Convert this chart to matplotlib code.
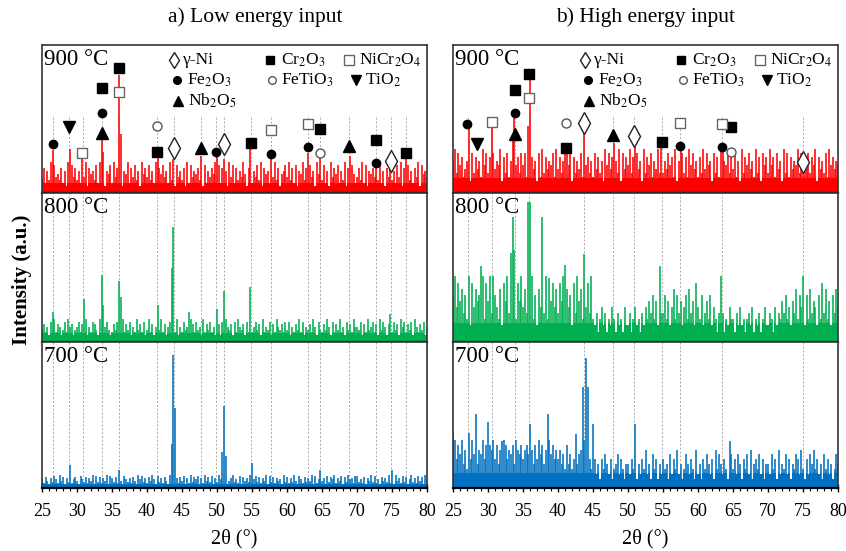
import numpy as np
import matplotlib
matplotlib.use("Agg")
import matplotlib.pyplot as plt

plt.rcParams['font.family'] = ['Liberation Serif', 'DejaVu Serif']
plt.rcParams['mathtext.fontset'] = 'stix'

# noise levels, one digit per 0.25 deg step (25..80), value = lo + (hi-lo)*d/9
L900_NOISE = ("47263918453726195847" "36284917563829471658" "29473816592748361957"
              "48362917584629371846" "37192846573918264759" "58273619482736495172"
              "26483917562849371568" "49372816593728461957" "38261947582639174852"
              "47392816574938261749" "36284917583627491856" "4")
L800_NOISE = ("35241637254136274513" "46253714265317254631" "25364172536142735261"
              "37251463725146352714" "26341752634172536241" "35162743516274351627"
              "24635172436152743526" "36142537261435274163" "25374162537241635274"
              "43615273462517364152" "26351746253617425361" "4")
L700_NOISE = ("52741638529471638257" "41853726491837264918" "63729418536274195836"
              "27495183627419583627" "48162937581629473816" "39572814693528174639"
              "15837264918372645193" "72639418527364918253" "46183759264817395628"
              "83527164938251746392" "51946283715936284719" "5")
R900_NOISE = ("69385724691837462958" "37284659173826495738" "58293746182937465829"
              "47362958173648295736" "28473619584726391847" "59372846193758264937"
              "36485729164837295846" "27394856183729465837" "48261937584629371857"
              "39572846193827465938" "26483759174638295746" "5")
R800_NOISE = ("69485736291847563928" "58396427185937462859" "47385926174839265847"
              "38592746183957264839" "21302413021420312041" "13024120314253625143"
              "36251472635146273518" "42613526142031302142" "20314120231402130241"
              "13204132536241537264" "51627354162837251637" "4")
R700_NOISE = ("79586947385968476958" "68795847698576849768" "57869748596847596857"
              "57463846352467899853" "35241536425134625314" "42536142537241635142"
              "53416253724136425317" "24153642517364253146" "35264153627145362514"
              "42635172436251436527" "31526473524163524136" "4")

# (lo, hi) of the noise band and solid floor, axes fraction
L900_BAND = (0.03, 0.21, 0.07)
L800_BAND = (0.03, 0.19, 0.06)
L700_BAND = (0.02, 0.09, 0.03)
R900_BAND = (0.05, 0.30, 0.10)
R800_BAND = (0.07, 0.44, 0.13)
R700_BAND = (0.03, 0.33, 0.10)

# peaks (2theta, height as axes fraction)
L900_PEAKS = [(26.5, 0.29), (28.9, 0.30), (30.8, 0.24), (33.5, 0.42), (33.75, 0.28),
              (36.0, 0.80), (36.25, 0.40), (41.4, 0.27), (43.8, 0.23), (47.7, 0.25),
              (49.9, 0.27), (51.0, 0.23), (54.8, 0.30), (57.7, 0.23), (63.0, 0.27),
              (64.7, 0.25), (68.9, 0.25), (72.7, 0.22), (74.8, 0.21), (77.0, 0.23)]
L800_PEAKS = [(26.5, 0.20), (30.9, 0.29), (33.6, 0.45), (33.85, 0.25), (36.0, 0.41),
              (36.25, 0.30), (41.4, 0.25), (43.6, 0.50), (43.8, 0.77), (46.0, 0.20),
              (49.9, 0.22), (51.0, 0.34), (54.8, 0.37), (74.8, 0.19)]
L700_PEAKS = [(28.9, 0.16), (36.0, 0.12), (43.5, 0.30), (43.75, 0.91), (44.0, 0.55),
              (50.75, 0.25), (51.0, 0.56), (51.25, 0.22), (54.9, 0.17), (64.8, 0.12),
              (75.0, 0.12)]
R900_PEAKS = [(27.2, 0.43), (30.6, 0.46), (33.6, 0.35), (33.8, 0.51), (35.7, 0.45),
              (35.9, 0.78), (36.1, 0.55), (41.1, 0.30), (43.7, 0.43), (47.9, 0.34),
              (50.9, 0.31), (54.8, 0.31), (57.4, 0.31), (63.4, 0.30), (75.0, 0.20)]
R800_PEAKS = [(28.96, 0.51), (30.3, 0.44), (33.25, 0.60), (33.5, 0.84), (33.75, 0.62),
              (35.8, 0.94), (36.1, 0.94), (37.7, 0.84), (38.7, 0.43), (41.1, 0.52),
              (43.7, 0.59), (54.4, 0.51), (63.2, 0.44), (75.0, 0.44)]
R700_PEAKS = [(25.0, 0.38), (27.3, 0.38), (28.2, 0.51), (30.1, 0.45), (32.1, 0.32),
              (36.0, 0.44), (38.5, 0.51), (42.6, 0.37), (43.6, 0.69), (43.9, 0.89),
              (44.3, 0.69), (45.0, 0.44), (51.0, 0.44), (64.4, 0.32)]

# reference lines
LEFT_REF = [26.5, 28.9, 30.8, 33.5, 36.0, 41.4, 43.8, 47.7, 49.9, 51.0, 54.8, 57.7,
            63.0, 64.7, 68.9, 72.7, 74.8, 77.0]
RIGHT_REF = [27.2, 30.6, 33.8, 35.9, 43.7, 47.9, 50.9, 54.8, 57.4, 63.4, 75.0]

# phase markers on the 900 C patterns (2theta, height)
L_NI = [(43.8, 0.304), (51.0, 0.331), (74.8, 0.216)]
L_CR2O3 = [(33.5, 0.709), (36.0, 0.845), (41.4, 0.277), (54.8, 0.338), (64.7, 0.432),
           (72.7, 0.358), (77.0, 0.270)]
L_NICR2O4 = [(30.7, 0.270), (36.0, 0.682), (57.7, 0.426), (63.0, 0.466)]
L_FE2O3 = [(26.5, 0.331), (33.5, 0.541), (49.9, 0.277), (57.7, 0.264), (63.0, 0.311),
           (72.7, 0.203)]
L_FETIO3 = [(41.4, 0.453), (64.7, 0.270)]
L_TIO2 = [(28.9, 0.446)]
L_NB2O5 = [(33.5, 0.405), (47.7, 0.304), (68.9, 0.318)]

R_NI = [(43.7, 0.473), (50.9, 0.385), (75.0, 0.209)]
R_CR2O3 = [(33.8, 0.696), (35.9, 0.804), (41.1, 0.304), (54.8, 0.345), (64.7, 0.446)]
R_NICR2O4 = [(30.6, 0.480), (35.9, 0.642), (57.4, 0.473), (63.4, 0.466)]
R_FE2O3 = [(27.0, 0.466), (33.8, 0.541), (57.4, 0.318), (63.4, 0.311)]
R_FETIO3 = [(41.1, 0.473), (64.7, 0.277)]
R_TIO2 = [(28.4, 0.331)]
R_NB2O5 = [(33.8, 0.399), (47.9, 0.392)]

RED, GREEN, BLUE = '#ff0000', '#00b050', '#0070c0'

styles = {
    'ni': dict(marker='d', ms=11, mfc='white', mec='#222222', mew=1.0),
    'cr2o3': dict(marker='s', ms=6.5, mfc='black', mec='black'),
    'nicr2o4': dict(marker='s', ms=7.5, mfc='white', mec='#666666', mew=1.0),
    'fe2o3': dict(marker='o', ms=6, mfc='black', mec='black'),
    'fetio3': dict(marker='o', ms=6.5, mfc='white', mec='#555555', mew=1.0),
    'tio2': dict(marker='v', ms=8, mfc='black', mec='black'),
    'nb2o5': dict(marker='^', ms=8, mfc='black', mec='black'),
}
legend_ms = {'ni': 8.5, 'cr2o3': 5.5, 'nicr2o4': 6.5, 'fe2o3': 5.5, 'fetio3': 5.5,
             'tio2': 6.5, 'nb2o5': 7}
labels = {
    'ni': 'γ-Ni', 'cr2o3': r'Cr$_2$O$_3$', 'nicr2o4': r'NiCr$_2$O$_4$',
    'fe2o3': r'Fe$_2$O$_3$', 'fetio3': r'FeTiO$_3$', 'tio2': r'TiO$_2$',
    'nb2o5': r'Nb$_2$O$_5$',
}
# legend key layout: marker offset, text offset (px from axes left), px from figure top
legend_pos = {
    'ni': (132, 141, 60), 'cr2o3': (228, 239, 60), 'nicr2o4': (307, 317, 60),
    'fe2o3': (135, 145, 80), 'fetio3': (230, 239, 80), 'tio2': (314, 323, 80),
    'nb2o5': (136, 146, 101),
}


def pattern(noise, band, peaks):
    x = np.linspace(25, 80, len(noise))
    d = np.array([int(c) for c in noise], dtype=float)
    y = band[0] + (band[1] - band[0]) * d / 9.0
    for p, h in peaks:
        i = np.argmin(np.abs(x - p))
        y[i] = max(y[i], h)
    return x, y


fig = plt.figure(figsize=(8.46, 5.51), dpi=100)
left_x, right_x, w = 42 / 846, 453 / 846, 385 / 846
rows = [(1 - 193 / 551, 148 / 551), (1 - 342 / 551, 149 / 551), (1 - 488 / 551, 146 / 551)]

panels = [
    (left_x, LEFT_REF, [(L900_NOISE, L900_BAND, L900_PEAKS, RED, '900 °C'),
                        (L800_NOISE, L800_BAND, L800_PEAKS, GREEN, '800 °C'),
                        (L700_NOISE, L700_BAND, L700_PEAKS, BLUE, '700 °C')],
     dict(ni=L_NI, cr2o3=L_CR2O3, nicr2o4=L_NICR2O4, fe2o3=L_FE2O3,
          fetio3=L_FETIO3, tio2=L_TIO2, nb2o5=L_NB2O5)),
    (right_x, RIGHT_REF, [(R900_NOISE, R900_BAND, R900_PEAKS, RED, '900 °C'),
                          (R800_NOISE, R800_BAND, R800_PEAKS, GREEN, '800 °C'),
                          (R700_NOISE, R700_BAND, R700_PEAKS, BLUE, '700 °C')],
     dict(ni=R_NI, cr2o3=R_CR2O3, nicr2o4=R_NICR2O4, fe2o3=R_FE2O3,
          fetio3=R_FETIO3, tio2=R_TIO2, nb2o5=R_NB2O5)),
]

for x0, refs, series, marks in panels:
    for k, (noise, band, peaks, color, temp) in enumerate(series):
        b, h = rows[k]
        ax = fig.add_axes([x0, b, w, h])
        top = 0.53 if k == 0 else 1.0
        for r in refs:
            ax.plot([r, r], [0, top], color='#aaaaaa', lw=0.7, ls=(0, (2, 2)), zorder=1)
        x, y = pattern(noise, band, peaks)
        ax.fill_between(x, 0, np.minimum(y, band[2]), step='mid', color=color, lw=0, zorder=2)
        ax.vlines(x, 0, y, color=color, lw=1.15, zorder=2)
        ax.set_xlim(25, 80)
        ax.set_ylim(0, 1)
        ax.set_yticks([])
        for s in ax.spines.values():
            s.set_color('#333333')
            s.set_linewidth(1.2)
        ax.spines['bottom'].set_color('black')
        ax.spines['bottom'].set_linewidth(1.6)
        ax.text(0.006, 0.975, temp, transform=ax.transAxes, ha='left', va='top',
                fontsize=16.5, zorder=5)
        if k == 2:
            ax.set_xticks(np.arange(25, 81, 5))
            ax.set_xticks(np.arange(25, 81, 1), minor=True)
            ax.tick_params(axis='x', which='major', direction='inout', length=6,
                           width=1, labelsize=13, pad=8)
            ax.tick_params(axis='x', which='minor', direction='inout', length=4, width=0.8)
            ax.set_xlabel('2θ (°)', fontsize=14.5, labelpad=6)
        else:
            ax.set_xticks([])
        if k == 0:
            for key, pts in marks.items():
                px = [p[0] for p in pts]
                py = [p[1] for p in pts]
                ax.plot(px, py, ls='none', zorder=4, **styles[key])
            for key, (mx, tx, ty) in legend_pos.items():
                yy = (193 - ty) / 148
                st = dict(styles[key])
                st['ms'] = legend_ms[key]
                ax.plot([mx / 385], [yy], ls='none', transform=ax.transAxes,
                        clip_on=False, zorder=5, **st)
                ax.text(tx / 385, yy, labels[key], transform=ax.transAxes, ha='left',
                        va='center', fontsize=12.5, zorder=5)

fig.text(255 / 846, 1 - 17 / 551, 'a) Low energy input', ha='center', va='center', fontsize=15.5)
fig.text(646 / 846, 1 - 17 / 551, 'b) High energy input', ha='center', va='center', fontsize=15.5)
fig.text(22 / 846, 1 - 280 / 551, 'Intensity (a.u.)', rotation=90, ha='center', va='center',
         fontsize=15, fontweight='bold')

fig.savefig('out.png', dpi=100)
